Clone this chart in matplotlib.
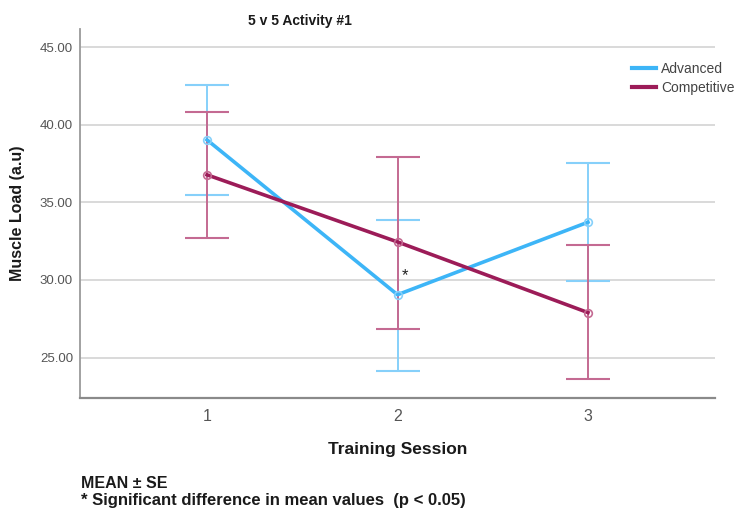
import matplotlib
matplotlib.use("Agg")
import matplotlib.pyplot as plt

plt.rcParams['font.family'] = ['Liberation Sans', 'DejaVu Sans']

sessions = [1, 2, 3]
session_labels = ["1", "2", "3"]
adv_mean = [39.02, 29.05, 33.72]
adv_upper = [42.56, 33.87, 37.50]
adv_lower = [35.48, 24.16, 29.92]
comp_mean = [36.77, 32.45, 27.90]
comp_upper = [40.82, 37.93, 32.22]
comp_lower = [32.72, 26.87, 23.63]
yticks = [25, 30, 35, 40, 45]

W, H = 740, 514
fig = plt.figure(figsize=(W / 100, H / 100), dpi=100)
ax = fig.add_axes([80 / W, 1 - 398 / H, (715 - 80) / W, (398 - 29) / H])

adv_c = "#3DB5F7"
adv_e = "#86D0FA"
comp_c = "#9C1C58"
comp_e = "#C46A92"

for mean, up, lo, ec in [(adv_mean, adv_upper, adv_lower, adv_e),
                          (comp_mean, comp_upper, comp_lower, comp_e)]:
    yerr = [[m - l for m, l in zip(mean, lo)], [u - m for m, u in zip(mean, up)]]
    ax.errorbar(sessions, mean, yerr=yerr, fmt="none", ecolor=ec,
                elinewidth=1.4, capsize=15.5, capthick=1.5, zorder=3)

ax.plot(sessions, adv_mean, color=adv_c, lw=2.6, label="Advanced", zorder=4)
ax.plot(sessions, comp_mean, color=comp_c, lw=2.6, label="Competitive", zorder=4)
ax.plot(sessions, adv_mean, ls="none", marker="o", ms=5.5, mfc="none",
        mec=adv_e, mew=1.2, zorder=5)
ax.plot(sessions, comp_mean, ls="none", marker="o", ms=5.5, mfc="none",
        mec=comp_e, mew=1.2, zorder=5)

ax.text(2.04, 30.3, "*", ha="center", va="center", fontsize=12, color="#222222")

ax.set_xlim(0.333, 3.667)
ax.set_ylim(22.4, 46.16)
ax.set_xticks(sessions)
ax.set_xticklabels(session_labels)
ax.set_yticks(yticks)
ax.set_yticklabels([f"{v:.2f}" for v in yticks])
ax.yaxis.grid(True, color="#D9D9D9", lw=1.4)
ax.set_axisbelow(True)
ax.tick_params(axis="both", length=0, colors="#555555")
ax.tick_params(axis="y", labelsize=9.5, pad=5)
ax.tick_params(axis="x", labelsize=11.5, pad=8)
for s in ["top", "right"]:
    ax.spines[s].set_visible(False)
ax.spines["left"].set_color("#9A9A9A")
ax.spines["left"].set_linewidth(1.3)
ax.spines["bottom"].set_color("#8A8A8A")
ax.spines["bottom"].set_linewidth(1.6)

ax.set_xlabel("Training Session", fontsize=12.5, fontweight="bold", labelpad=13,
              color="#1a1a1a")
ax.set_ylabel("Muscle Load (a.u)", fontsize=11.5, fontweight="bold", labelpad=11,
              color="#1a1a1a")

fig.text(300 / W, 1 - 21 / H, "5 v 5 Activity #1", ha="center", va="center",
         fontsize=10, fontweight="bold", color="#1a1a1a")

leg = ax.legend(loc="upper left", bbox_to_anchor=(632 / W, 1 - 62 / H),
                bbox_transform=fig.transFigure, frameon=False, fontsize=10,
                handlelength=1.7, handletextpad=0.4, labelspacing=0.35,
                borderaxespad=0, borderpad=0)
for t in leg.get_texts():
    t.set_color("#444444")
for l in leg.get_lines():
    l.set_linewidth(3)

fig.text(81 / W, 1 - 483 / H, "MEAN ± SE", ha="left", va="center",
         fontsize=11.5, fontweight="bold", color="#1a1a1a")
fig.text(81 / W, 1 - 501 / H, "* Significant difference in mean values  (p < 0.05)",
         ha="left", va="center", fontsize=12, fontweight="bold", color="#1a1a1a")

fig.savefig("out.png", dpi=100, facecolor="white")
